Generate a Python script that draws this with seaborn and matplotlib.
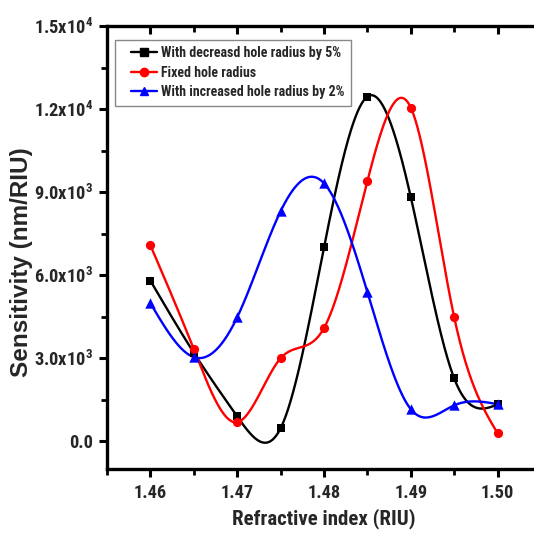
import numpy as np
import pandas as pd
import matplotlib
matplotlib.use("Agg")
import matplotlib.pyplot as plt
from matplotlib import font_manager as fm
from matplotlib.lines import Line2D
from matplotlib.legend_handler import HandlerLine2D
from matplotlib.ticker import FixedLocator, FixedFormatter, NullFormatter
import seaborn as sns

# Refractive index of the analyte
refractive_index = [1.460, 1.465, 1.470, 1.475, 1.480, 1.485, 1.490, 1.495, 1.500]

# Sensitivity (nm/RIU) for the three hole-radius cases
sens_decreased = [5800, 3200, 900, 470, 7000, 12450, 8820, 2270, 1330]
sens_fixed = [7080, 3330, 690, 3000, 4090, 9400, 12050, 4480, 290]
sens_increased = [4990, 3040, 4480, 8310, 9320, 5390, 1160, 1300, 1340]

series_names = [
    "With decreasd hole radius by 5%",
    "Fixed hole radius",
    "With increased hole radius by 2%",
]
series_colors = ["#000000", "#ff0000", "#0000ff"]
series_markers = ["s", "o", "^"]

x_ticks = [1.46, 1.47, 1.48, 1.49, 1.50]
x_tick_labels = ["1.46", "1.47", "1.48", "1.49", "1.50"]
y_ticks = [0, 3000, 6000, 9000, 12000, 15000]
y_tick_labels = ["0.0", "3.0x10$^{3}$", "6.0x10$^{3}$", "9.0x10$^{3}$",
                 "1.2x10$^{4}$", "1.5x10$^{4}$"]


def natural_spline(x, y, xs):
    """Natural cubic spline through (x, y), evaluated at xs."""
    x = np.asarray(x, float)
    y = np.asarray(y, float)
    n = len(x)
    h = np.diff(x)
    A = np.zeros((n, n))
    b = np.zeros(n)
    A[0, 0] = A[-1, -1] = 1.0
    for i in range(1, n - 1):
        A[i, i - 1] = h[i - 1]
        A[i, i] = 2 * (h[i - 1] + h[i])
        A[i, i + 1] = h[i]
        b[i] = 6 * ((y[i + 1] - y[i]) / h[i] - (y[i] - y[i - 1]) / h[i - 1])
    M = np.linalg.solve(A, b)
    idx = np.clip(np.searchsorted(x, xs) - 1, 0, n - 2)
    x0, x1 = x[idx], x[idx + 1]
    hh = x1 - x0
    t0 = x1 - xs
    t1 = xs - x0
    return (M[idx] * t0 ** 3 / (6 * hh) + M[idx + 1] * t1 ** 3 / (6 * hh)
            + (y[idx] / hh - M[idx] * hh / 6) * t0
            + (y[idx + 1] / hh - M[idx + 1] * hh / 6) * t1)


def pick_narrow_font():
    """Return (family, stretch, scale) for a narrow bold sans face."""
    entries = fm.fontManager.ttflist
    names = {e.name for e in entries}
    for fam in ["Liberation Sans Narrow", "Arial Narrow", "Roboto Condensed",
                "Open Sans Condensed", "Open Sans Condensed Bold", "Noto Sans Condensed"]:
        if fam in names:
            return fam, "normal", 1.0
    for fam in ["Roboto", "Noto Sans", "Open Sans", "DejaVu Sans"]:
        for e in entries:
            if e.name == fam and str(e.stretch) in ("condensed", "semi-condensed",
                                                    "extra-condensed"):
                return fam, str(e.stretch), 1.0
    for e in entries:
        if "narrow" in e.fname.lower() or "cond" in e.fname.lower():
            return e.name, str(e.stretch), 1.0
    return "Liberation Sans", "normal", 0.84


narrow_family, narrow_stretch, size_scale = pick_narrow_font()

sns.set_theme(style="white")
plt.rcParams["font.family"] = [narrow_family, "Liberation Sans", "DejaVu Sans"]
plt.rcParams["font.stretch"] = narrow_stretch
plt.rcParams["font.weight"] = "bold"
plt.rcParams["mathtext.fontset"] = "custom"
plt.rcParams["mathtext.rm"] = f"{narrow_family}:bold:stretch={narrow_stretch}"
plt.rcParams["mathtext.bf"] = f"{narrow_family}:bold:stretch={narrow_stretch}"
plt.rcParams["mathtext.default"] = "rm"

points = pd.concat([
    pd.DataFrame({"n": refractive_index, "S": vals, "series": name})
    for name, vals in zip(series_names, [sens_decreased, sens_fixed, sens_increased])
], ignore_index=True)

xs = np.linspace(refractive_index[0], refractive_index[-1], 600)
curves = pd.concat([
    pd.DataFrame({"n": xs, "S": natural_spline(refractive_index, vals, xs), "series": name})
    for name, vals in zip(series_names, [sens_decreased, sens_fixed, sens_increased])
], ignore_index=True)

fig = plt.figure(figsize=(5.34, 5.35), dpi=100)
ax = fig.add_axes([107 / 534, 1 - 469 / 535, (541 - 107) / 534, (469 - 26) / 535])

palette = dict(zip(series_names, series_colors))
sns.lineplot(data=curves, x="n", y="S", hue="series", palette=palette,
             linewidth=1.7, legend=False, ax=ax, sort=False, estimator=None)
for name, marker, size in zip(series_names, series_markers, [34, 44, 56]):
    sub = points[points["series"] == name]
    sns.scatterplot(data=sub, x="n", y="S", color=palette[name], marker=marker,
                    s=size, linewidth=0, legend=False, ax=ax, zorder=3)

ax.set_xlim(1.455, 1.505)
ax.set_ylim(-1000, 15000)

x_minor = [1.455, 1.465, 1.475, 1.485, 1.495]
ax.xaxis.set_major_locator(FixedLocator(x_ticks))
ax.xaxis.set_major_formatter(FixedFormatter(x_tick_labels))
ax.xaxis.set_minor_locator(FixedLocator(x_minor))
ax.yaxis.set_major_locator(FixedLocator(y_ticks))
ax.yaxis.set_major_formatter(FixedFormatter(y_tick_labels))
ax.yaxis.set_minor_locator(FixedLocator([1500, 4500, 7500, 10500, 13500]))

ax.tick_params(axis="both", which="major", direction="out", length=6, width=2.2,
               labelsize=13.2 * size_scale, color="black")
ax.tick_params(axis="y", which="major", pad=4)
ax.tick_params(axis="x", which="major", pad=5)
ax.tick_params(axis="both", which="minor", direction="out", length=4, width=2.0,
               color="black")
ax.tick_params(left=True, bottom=True, which="both")
for lab in ax.get_xticklabels() + ax.get_yticklabels():
    lab.set_fontweight("bold")

for side in ["left", "bottom"]:
    ax.spines[side].set_linewidth(2.4)
    ax.spines[side].set_color("black")
ax.spines["top"].set_visible(False)
ax.spines["right"].set_visible(False)

top = ax.secondary_xaxis("top")
top.xaxis.set_major_locator(FixedLocator(x_ticks))
top.xaxis.set_minor_locator(FixedLocator(x_minor))
top.xaxis.set_major_formatter(NullFormatter())
top.tick_params(axis="x", which="major", direction="in", length=6, width=2.2, color="black")
top.tick_params(axis="x", which="minor", direction="in", length=4, width=2.0, color="black")
top.spines["top"].set_linewidth(2.4)
top.spines["top"].set_color("black")

ax.set_xlabel("Refractive index (RIU)", fontsize=15 * size_scale, fontweight="bold",
              labelpad=4)
ax.set_ylabel("Sensitivity (nm/RIU)", fontsize=17.5, fontweight="bold",
              family=["Liberation Sans", "DejaVu Sans"], fontstretch="normal")
ax.yaxis.set_label_coords(-0.17, 0.468)

handles = [
    Line2D([], [], color=c, marker=m, markersize=6, linewidth=1.7)
    for c, m in zip(series_colors, series_markers)
]
leg_size = 10 * size_scale
leg = ax.legend(handles, series_names, loc="upper left",
                bbox_to_anchor=(115 / 534, 1 - 40 / 535), bbox_transform=fig.transFigure,
                frameon=True, fancybox=False, edgecolor="#888888", framealpha=1,
                prop={"family": narrow_family, "stretch": narrow_stretch,
                      "weight": "bold", "size": leg_size},
                handler_map={Line2D: HandlerLine2D(xpad=0.7)},
                handlelength=2.6, handletextpad=0.25, labelspacing=0.4,
                borderpad=0.45, borderaxespad=0)
leg.get_frame().set_linewidth(1.0)

fig.savefig("out.png", dpi=100)
